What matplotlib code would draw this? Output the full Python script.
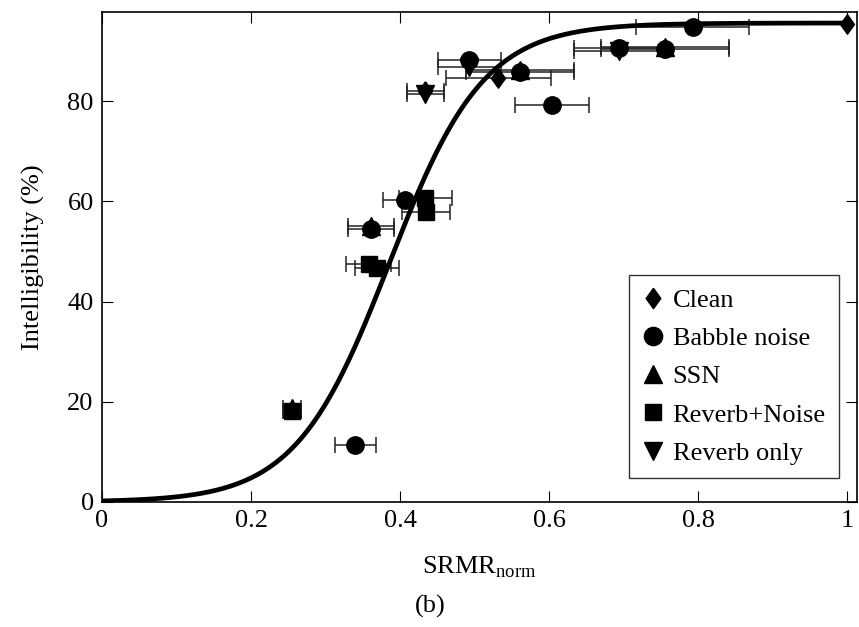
import numpy as np
import matplotlib
matplotlib.use("Agg")
import matplotlib.pyplot as plt

# ---- data ----
clean_x = [1.000, 0.434, 0.532]
clean_y = [95.4, 82.0, 84.6]
clean_xerr = [0.0, 0.025, 0.070]

babble_x = [0.793, 0.694, 0.756, 0.493, 0.561, 0.604, 0.407, 0.361, 0.340]
babble_y = [94.8, 90.6, 90.4, 88.2, 85.8, 79.2, 60.3, 54.5, 11.4]
babble_xerr = [0.076, 0.060, 0.086, 0.042, 0.072, 0.050, 0.030, 0.031, 0.0275]

ssn_x = [0.756, 0.561, 0.361, 0.255]
ssn_y = [90.8, 86.3, 55.0, 18.8]
ssn_xerr = [0.086, 0.072, 0.031, 0.012]

revnoise_x = [0.434, 0.435, 0.358, 0.369, 0.255]
revnoise_y = [60.6, 57.9, 47.6, 46.8, 18.2]
revnoise_xerr = [0.036, 0.032, 0.030, 0.030, 0.012]

revonly_x = [0.694, 0.493, 0.434]
revonly_y = [90.0, 86.8, 81.4]
revonly_xerr = [0.060, 0.042, 0.025]

labels = ["Clean", "Babble noise", "SSN", "Reverb+Noise", "Reverb only"]

# fitted logistic curve parameters
fit_A = 95.6
fit_k = 15.8
fit_x0 = 0.386

xticks = [0, 0.2, 0.4, 0.6, 0.8, 1]
xticklabels = ["0", "0.2", "0.4", "0.6", "0.8", "1"]
yticks = [0, 20, 40, 60, 80]

# ---- styling ----
plt.rcParams["font.family"] = ["Liberation Serif", "DejaVu Serif"]
plt.rcParams["mathtext.fontset"] = "custom"
plt.rcParams["mathtext.rm"] = "Liberation Serif"
FS = 19

fig = plt.figure(figsize=(8.59, 6.27), dpi=100)
ax = fig.add_axes([102 / 859, 1 - 502 / 627, 755 / 859, 490 / 627])

xs = np.linspace(0, 1, 400)
ax.plot(xs, fit_A / (1 + np.exp(-fit_k * (xs - fit_x0))), color="black", lw=3.4,
        solid_capstyle="butt", zorder=3)

diamond = [(0, 1), (0.72, 0), (0, -1), (-0.72, 0), (0, 1)]
series = [
    (clean_x, clean_y, clean_xerr, diamond, 14),
    (babble_x, babble_y, babble_xerr, "o", 12.5),
    (ssn_x, ssn_y, ssn_xerr, "^", 12.5),
    (revnoise_x, revnoise_y, revnoise_xerr, "s", 11.5),
    (revonly_x, revonly_y, revonly_xerr, "v", 12.5),
]
handles = []
for (x, y, xe, m, ms), lab in zip(series, labels):
    ax.errorbar(x, y, xerr=xe, fmt="none", ecolor="#222222", elinewidth=1.1,
                capsize=6, capthick=1.1, zorder=2)
    h, = ax.plot(x, y, linestyle="none", marker=m, markersize=ms, color="black",
                 label=lab, zorder=4)
    handles.append(h)

ax.set_xlim(0, 1.0134)
ax.set_ylim(0, 97.8)
ax.set_xticks(xticks)
ax.set_xticklabels(xticklabels)
ax.set_yticks(yticks)
ax.tick_params(direction="in", length=8, width=0.8, labelsize=FS,
               top=True, right=True, pad=6)
for s in ax.spines.values():
    s.set_linewidth(1.2)

ax.set_xlabel(r"SRMR$_{\mathrm{norm}}$", fontsize=FS, labelpad=16)
ax.set_ylabel("Intelligibility (%)", fontsize=FS, labelpad=16)

leg = ax.legend(handles=handles, loc="lower right", bbox_to_anchor=(0.976, 0.049),
                fontsize=FS, frameon=True, fancybox=False, edgecolor="black",
                handlelength=0.8, handletextpad=0.35, labelspacing=0.56,
                borderpad=0.5, borderaxespad=0.0, numpoints=1, markerscale=1.05)
leg.get_frame().set_linewidth(1.0)

fig.text(430 / 859, 1 - 606 / 627, "(b)", ha="center", va="center", fontsize=FS)

fig.savefig("out.png", dpi=100)
